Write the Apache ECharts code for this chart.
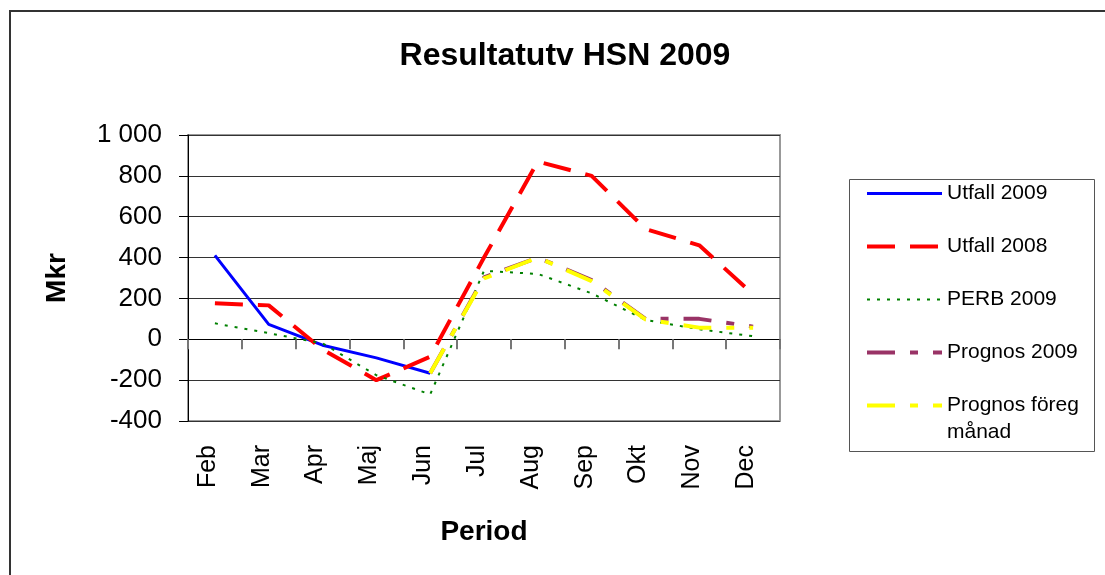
<!DOCTYPE html>
<html>
<head>
<meta charset="utf-8">
<script src="https://cdn.jsdelivr.net/npm/echarts@6/dist/echarts.min.js"></script>
<style>
html,body{margin:0;padding:0;background:#fff;}
#chart{width:1105px;height:575px;}
</style>
</head>
<body>
<div id="chart"></div>
<script>
const categories = ['Feb','Mar','Apr','Maj','Jun','Jul','Aug','Sep','Okt','Nov','Dec'];
const utfall2009 = [411, 73, -29, -91, -166, null, null, null, null, null, null];
const utfall2008 = [176, 166, -50, -200, -85, 400, 870, 800, 540, 460, 220];
const perb2009 = [78, 30, -20, -176, -270, 335, 320, 225, 95, 49, 15];
const prognos2009 = [null, null, null, null, -166, 303, 400, 290, 100, 100, 62];
const prognosForeg = [null, null, null, null, -166, 298, 400, 285, 97, 57, 57];
const yTicks = [-400, -200, 0, 200, 400, 600, 800, 1000];
const seriesNames = ['Utfall 2009', 'Utfall 2008', 'PERB 2009', 'Prognos 2009', 'Prognos föreg månad'];

const FONT = '"Liberation Sans", Arial, sans-serif';
function fmtY(v) {
  const s = String(Math.abs(v)).replace(/\B(?=(\d{3})+(?!\d))/g, ' ');
  return (v < 0 ? '-' : '') + s;
}
const hiddenSymbol = {color: 'rgba(0,0,0,0)', borderColor: 'rgba(0,0,0,0)', borderWidth: 0, opacity: 0};

const chart = echarts.init(document.getElementById('chart'), null, {renderer: 'canvas'});
const option = {
  backgroundColor: '#ffffff',
  animation: false,
  title: {
    text: 'Resultatutv HSN 2009',
    left: 560,
    textAlign: 'center',
    top: 35,
    textStyle: {fontFamily: FONT, fontSize: 32, fontWeight: 'bold', color: '#000'}
  },
  graphic: [
    {type: 'rect', shape: {x: 10, y: 11, width: 1110, height: 580}, style: {fill: 'none', stroke: '#333', lineWidth: 2}, silent: true, z: -10},
    {type: 'rect', shape: {x: 849.5, y: 179.5, width: 245, height: 272}, style: {fill: '#fff', stroke: '#555', lineWidth: 1}, silent: true, z: -5}
  ],
  legend: [
    {
      data: seriesNames.slice(0, 4),
      orient: 'vertical',
      left: 865, top: 180,
      padding: 0,
      itemWidth: 75, itemHeight: 14,
      itemGap: 26,
      itemStyle: hiddenSymbol,
      lineStyle: {width: 'inherit', type: 'inherit'},
      textStyle: {fontFamily: FONT, fontSize: 21, color: '#000', lineHeight: 27}
    },
    {
      data: seriesNames.slice(4),
      orient: 'vertical',
      left: 865, top: 365,
      padding: 0,
      itemWidth: 75, itemHeight: 14,
      itemStyle: hiddenSymbol,
      lineStyle: {width: 'inherit', type: 'inherit'},
      formatter: function (n) { return n === 'Prognos föreg månad' ? '\nPrognos föreg\nmånad' : n; },
      textStyle: {fontFamily: FONT, fontSize: 21, color: '#000', lineHeight: 27}
    }
  ],
  grid: {
    left: 188, top: 135, width: 592, height: 286,
    show: true, borderColor: '#999', borderWidth: 2, backgroundColor: '#fff',
    containLabel: false
  },
  xAxis: [
    {
      type: 'category', data: categories, position: 'bottom',
      boundaryGap: true,
      axisLine: {show: false, onZero: false},
      axisTick: {show: false},
      axisLabel: {rotate: 90, margin: 24, fontFamily: FONT, fontSize: 25, color: '#000', interval: 0,
                  verticalAlign: 'bottom', lineHeight: 14},
      name: 'Period', nameLocation: 'middle', nameGap: 97,
      nameTextStyle: {fontFamily: FONT, fontSize: 28, fontWeight: 'bold', color: '#000'},
      splitLine: {show: false}
    },
    {
      type: 'category', data: categories, position: 'bottom',
      boundaryGap: true,
      axisLine: {show: true, onZero: true, lineStyle: {color: '#000', width: 1}},
      axisTick: {show: true, length: 10, inside: false, lineStyle: {color: '#777', width: 2}},
      axisLabel: {show: false},
      splitLine: {show: false}
    }
  ],
  yAxis: {
    type: 'value', min: -400, max: 1000, interval: 200,
    axisLine: {show: true, onZero: false, lineStyle: {color: '#000', width: 1}},
    axisTick: {show: true, length: 9, inside: false, lineStyle: {color: '#000'}},
    axisLabel: {
      margin: 26, fontFamily: FONT, fontSize: 26, color: '#000',
      formatter: function (v) { return yTicks.indexOf(v) >= 0 ? fmtY(v) : ''; }
    },
    splitLine: {show: true, lineStyle: {color: '#333', width: 1}},
    name: 'Mkr', nameLocation: 'middle', nameGap: 117,
    nameTextStyle: {fontFamily: FONT, fontSize: 28, fontWeight: 'bold', color: '#000'}
  },
  series: [
    {name: seriesNames[0], type: 'line', data: utfall2009, symbol: 'none', xAxisIndex: 0,
     lineStyle: {color: '#0000FF', width: 3, type: 'solid'}, itemStyle: {color: '#0000FF'}},
    {name: seriesNames[1], type: 'line', data: utfall2008, symbol: 'none', xAxisIndex: 0,
     lineStyle: {color: '#FF0000', width: 4, type: [28, 15]}, itemStyle: {color: '#FF0000'}},
    {name: seriesNames[2], type: 'line', data: perb2009, symbol: 'none', xAxisIndex: 0,
     lineStyle: {color: '#008000', width: 2, type: [3, 7]}, itemStyle: {color: '#008000'}},
    {name: seriesNames[3], type: 'line', data: prognos2009, symbol: 'none', xAxisIndex: 0,
     lineStyle: {color: '#993366', width: 4, type: [28, 15, 8, 15]}, itemStyle: {color: '#993366'}},
    {name: seriesNames[4], type: 'line', data: prognosForeg, symbol: 'none', xAxisIndex: 0,
     lineStyle: {color: '#FFFF00', width: 4, type: [28, 15, 8, 15]}, itemStyle: {color: '#FFFF00'}}
  ]
};
chart.setOption(option);
</script>
</body>
</html>
